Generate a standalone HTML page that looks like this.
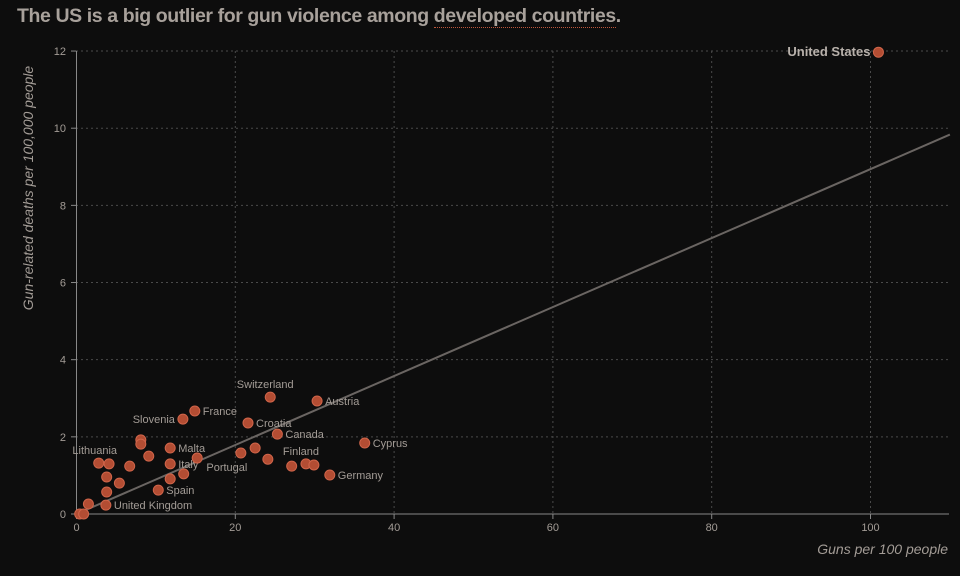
<!DOCTYPE html>
<html><head><meta charset="utf-8"><style>
body{margin:0;background:#0d0d0d;width:960px;height:576px;overflow:hidden;font-family:"Liberation Sans",sans-serif}
h1{position:absolute;left:17px;top:5px;margin:0;font-size:19.5px;font-weight:bold;color:#a8a19b;letter-spacing:-0.4px}
h1 span{border-bottom:1px dotted #c0563a}
</style></head><body>
<h1>The US is a big outlier for gun violence among <span>developed countries</span>.</h1>
<svg id="c" width="960" height="576" style="position:absolute;left:0;top:0"></svg>
<script>
const countries=["United States","Switzerland","Austria","France","Slovenia","Croatia","Canada","Cyprus","Malta","","","","Italy","","","","Spain","","","","Lithuania","","","United Kingdom","","","","Portugal","","","","Finland","","Germany"];
const guns=[101,24.4,30.3,14.9,13.4,21.6,25.3,36.3,11.8,8.1,8.1,9.1,11.8,15.2,13.5,11.8,10.3,6.7,5.4,4.1,2.8,3.8,3.8,3.7,1.5,0.4,0.9,20.7,22.5,24.1,27.1,28.9,29.9,31.9];
const deaths=[11.97,3.03,2.93,2.67,2.46,2.36,2.07,1.84,1.71,1.92,1.81,1.50,1.30,1.45,1.04,0.91,0.62,1.24,0.80,1.30,1.32,0.96,0.57,0.23,0.26,0,0,1.58,1.71,1.42,1.24,1.30,1.27,1.01];
const labelPos=["left","top","right","right","left","right","right","right","right","","","","right","","","","right","","","","topleft","","","right","","","","below","","","","top","","right"];
const xTicks=[0,20,40,60,80,100];
const yTicks=[0,2,4,6,8,10,12];
const trendSlope=0.0894, trendIntercept=0;
const X=v=>76.5+v*7.94, Y=v=>514-v*38.58;
const svg=document.getElementById('c');const NS='http://www.w3.org/2000/svg';
function mk(t,a,p){const e=document.createElementNS(NS,t);for(const k in a)e.setAttribute(k,a[k]);(p||svg).appendChild(e);return e;}
const tc='#a39c96';
xTicks.forEach(t=>{if(t>0){const l=mk('line',{x1:X(t),x2:X(t),y1:51,y2:514,stroke:'#4a4a4a',"stroke-dasharray":'2,3'});

}
const tx=mk('text',{x:X(t),y:531,fill:tc,"font-size":11,"text-anchor":'middle'});tx.textContent=t;


mk('line',{x1:X(t),x2:X(t),y1:514,y2:519,stroke:'#888'});});
yTicks.forEach(t=>{if(t>0){const l=mk('line',{x1:76,x2:949,y1:Y(t),y2:Y(t),stroke:'#4a4a4a',"stroke-dasharray":'2,3'});

}
const tx=mk('text',{x:66,y:Y(t)+4,fill:tc,"font-size":11,"text-anchor":'end'});tx.textContent=t;


mk('line',{x1:71,x2:76,y1:Y(t),y2:Y(t),stroke:'#888'});});
const ax=mk('line',{x1:76.5,x2:76.5,y1:51,y2:514,stroke:'#888'});


const bx=mk('line',{x1:76,x2:949,y1:514,y2:514,stroke:'#888'});


const xt=mk('text',{x:948,y:554,fill:tc,"font-size":14,"font-style":'italic',"text-anchor":'end'});xt.textContent='Guns per 100 people';


const yt=mk('text',{x:0,y:0,fill:tc,"font-size":14,"font-style":'italic',"text-anchor":'middle',transform:'translate(33,188) rotate(-90)'});yt.textContent='Gun-related deaths per 100,000 people';


const tl=mk('line',{x1:X(0),y1:Y(trendIntercept),x2:X(110),y2:Y(trendIntercept+trendSlope*110),stroke:'#6a6562',"stroke-width":2});


guns.forEach((g,i)=>{const cx=X(g),cy=Y(deaths[i]);
const c=mk('circle',{cx:cx,cy:cy,r:5,fill:'#b34d33',stroke:'#d0654a',"stroke-width":1});


const n=countries[i];if(!n)return;
const us=i===0;let a={fill:us?'#b8b1ab':tc,"font-size":us?13:11};
if(us)a["font-weight"]='bold';
const p=labelPos[i];
if(p==='right'){a.x=cx+8;a.y=cy+4;}
else if(p==='left'){a.x=cx-8;a.y=cy+4;a["text-anchor"]='end';}
else if(p==='top'){a.x=cx-5;a.y=cy-9;a["text-anchor"]='middle';}
else if(p==='below'){a.x=cx-14;a.y=cy+18;a["text-anchor"]='middle';}
else {a.x=cx-4;a.y=cy-9;a["text-anchor"]='middle';}
const t=mk('text',a);t.textContent=n;

});
</script>
</body></html>
